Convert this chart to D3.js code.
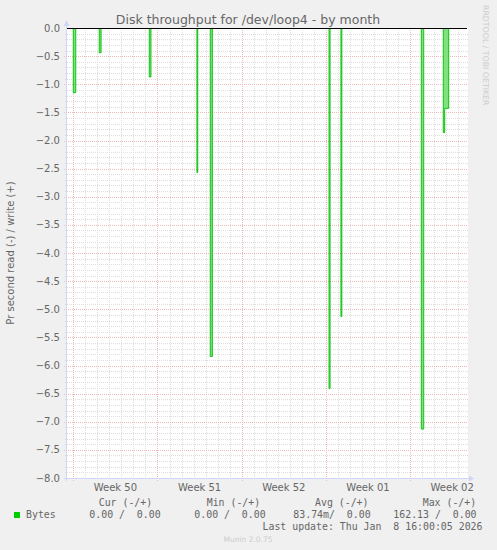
<!DOCTYPE html>
<html>
<head>
<meta charset="utf-8">
<script src="https://cdn.jsdelivr.net/npm/d3@7"></script>
<style>
  body { margin: 0; background: #f0f0f0; }
  text { font-family: 'DejaVu Sans', sans-serif; fill: #666; }
  .mono { font-family: 'DejaVu Sans Mono', monospace; white-space: pre; }
</style>
</head>
<body>
<div id="chart"></div>
<script>
// step samples of the read series (value holds until next time), bytes/s, negative = read
const readTimes = [
  '2025-12-07T11:30', '2025-12-08T00:00', '2025-12-08T05:00',
  '2025-12-10T03:50', '2025-12-10T07:30',
  '2025-12-14T07:40', '2025-12-14T11:00',
  '2025-12-18T06:40', '2025-12-18T08:20',
  '2025-12-19T09:20', '2025-12-19T13:30',
  '2025-12-29T06:15', '2025-12-29T08:20',
  '2025-12-30T06:00', '2025-12-30T07:50',
  '2026-01-05T22:20', '2026-01-06T03:10',
  '2026-01-07T18:10', '2026-01-07T21:00', '2026-01-08T05:00',
  '2026-01-08T16:00'
]
const readValues = [
  0, -1.15, 0,
  -0.44, 0,
  -0.87, 0,
  -2.57, 0,
  -5.84, 0,
  -6.41, 0,
  -5.13, 0,
  -7.13, 0,
  -1.86, -1.43, 0,
  0
]
const weekLabels = ['Week 50', 'Week 51', 'Week 52', 'Week 01', 'Week 02']
const weekStarts = ['2025-12-08', '2025-12-15', '2025-12-22', '2025-12-29', '2026-01-05']
const yTicks = d3.range(0, 17).map(i => -i * 0.5)

const legendHead = ['Cur (-/+)', 'Min (-/+)', 'Avg (-/+)', 'Max (-/+)']
const legendVals = ['0.00 /  0.00', '0.00 /  0.00', '83.74m/  0.00', '162.13 /  0.00']

const parse = (s) => new Date(s + (s.length > 10 ? ':00Z' : 'T00:00:00Z'))
const data = readTimes.map((t, i) => ({ t: parse(t), v: readValues[i] }))

const width = 497
const height = 550
const pLeft = 67, pRight = 468, pTop = 28, pBottom = 478
const gridMinor = '#dedede'
const gridMajor = '#f0b8b8'
const axisColor = '#cfd6f8'

const xScale = d3.scaleUtc()
    .domain([parse('2025-12-07T11:30'), parse('2026-01-09T19:30')])
    .range([pLeft, pRight])
const yScale = d3.scaleLinear().domain([-8, 0]).range([pBottom, pTop])

const svg = d3.select('#chart')
    .append('svg')
    .attr('width', width)
    .attr('height', height)

svg.append('rect').attr('width', width).attr('height', height).attr('fill', '#f0f0f0')
svg.append('rect')
    .attr('x', pLeft).attr('y', pTop)
    .attr('width', pRight - pLeft).attr('height', pBottom - pTop)
    .attr('fill', '#fff')

// grid
const days = d3.utcDay.range(xScale.domain()[0], xScale.domain()[1])
const mondays = d3.utcMonday.range(xScale.domain()[0], xScale.domain()[1])
const minorDays = days.filter(d => d.getUTCDay() !== 1)
const yMinor = d3.range(1, 80).filter(i => i % 5 !== 0).map(i => -i / 10)

const grid = svg.append('g').attr('shape-rendering', 'crispEdges')
grid.selectAll('.vmin').data(minorDays).enter().append('line')
    .attr('x1', d => Math.round(xScale(d)) + 0.5).attr('x2', d => Math.round(xScale(d)) + 0.5)
    .attr('y1', pTop).attr('y2', pBottom + 2)
    .attr('stroke', gridMinor).attr('stroke-dasharray', '1,1')
grid.selectAll('.hmin').data(yMinor).enter().append('line')
    .attr('y1', d => Math.round(yScale(d)) + 0.5).attr('y2', d => Math.round(yScale(d)) + 0.5)
    .attr('x1', pLeft - 2).attr('x2', pRight)
    .attr('stroke', gridMinor).attr('stroke-dasharray', '1,1')
grid.selectAll('.vmaj').data(mondays).enter().append('line')
    .attr('x1', d => Math.round(xScale(d)) + 0.5).attr('x2', d => Math.round(xScale(d)) + 0.5)
    .attr('y1', pTop).attr('y2', pBottom + 3)
    .attr('stroke', gridMajor).attr('stroke-dasharray', '1,1')
grid.selectAll('.hmaj').data(yTicks.slice(1, -1)).enter().append('line')
    .attr('y1', d => Math.round(yScale(d)) + 0.5).attr('y2', d => Math.round(yScale(d)) + 0.5)
    .attr('x1', pLeft - 3).attr('x2', pRight)
    .attr('stroke', gridMajor).attr('stroke-dasharray', '1,1')

// axes lines + arrows
svg.append('line')
    .attr('x1', pLeft - 0.5).attr('x2', pLeft - 0.5).attr('y1', 22).attr('y2', pBottom + 3)
    .attr('stroke', axisColor)
svg.append('line')
    .attr('x1', pLeft - 3).attr('x2', pRight + 3).attr('y1', pBottom + 0.5).attr('y2', pBottom + 0.5)
    .attr('stroke', axisColor)
svg.append('path').attr('d', `M${pLeft - 3.5},26 L${pLeft + 2.5},26 L${pLeft - 0.5},20 Z`).attr('fill', axisColor)
svg.append('path').attr('d', `M${pRight + 1},${pBottom - 2.5} L${pRight + 1},${pBottom + 3.5} L${pRight + 6},${pBottom + 0.5} Z`).attr('fill', axisColor)

// y tick labels
svg.selectAll('.ylab').data(yTicks).enter().append('text')
    .attr('x', 60).attr('y', d => yScale(d) + 3.6)
    .attr('text-anchor', 'end').attr('font-size', 10)
    .text(d => d3.format('.1f')(d))

// x labels at middle of each week
svg.selectAll('.xlab').data(weekLabels).enter().append('text')
    .attr('x', (d, i) => xScale(d3.utcHour.offset(parse(weekStarts[i]), 84)))
    .attr('y', 491)
    .attr('text-anchor', 'middle').attr('font-size', 10)
    .text(d => d)

// data
const clip = svg.append('clipPath').attr('id', 'clip')
clip.append('rect').attr('x', pLeft).attr('y', pTop).attr('width', pRight - pLeft).attr('height', pBottom - pTop)
const area = d3.area().curve(d3.curveStepAfter).x(d => xScale(d.t)).y0(yScale(0)).y1(d => yScale(d.v))
const line = d3.line().curve(d3.curveStepAfter).x(d => xScale(d.t)).y(d => yScale(d.v))
svg.append('path').datum(data).attr('d', area).attr('fill', '#7ee27e').attr('clip-path', 'url(#clip)')
svg.append('path').datum(data).attr('d', line).attr('fill', 'none').attr('stroke', '#00c000').attr('stroke-width', 0.9).attr('clip-path', 'url(#clip)')

// zero rule
svg.append('line')
    .attr('x1', pLeft).attr('x2', pRight - 1).attr('y1', yScale(0) + 0.5).attr('y2', yScale(0) + 0.5)
    .attr('stroke', '#000').attr('stroke-width', 1)

// titles
svg.append('text')
    .attr('x', 248).attr('y', 24).attr('text-anchor', 'middle').attr('font-size', 12.5)
    .text('Disk throughput for /dev/loop4 - by month')
svg.append('text')
    .attr('transform', `translate(14, 253) rotate(-90)`)
    .attr('text-anchor', 'middle').attr('font-size', 10)
    .text('Pr second read (-) / write (+)')
svg.append('text')
    .attr('transform', `translate(482.5, 5) rotate(90)`)
    .attr('font-size', 7.8).style('fill', '#cccccc')
    .text('RRDTOOL / TOBI OETIKER')

// legend
svg.append('rect').attr('x', 14).attr('y', 512).attr('width', 6).attr('height', 6).attr('fill', '#00cc00')
svg.append('text').attr('class', 'mono').attr('x', 26).attr('y', 518).attr('font-size', 9.9).text('Bytes')
const headX = [98.7, 206.7, 315, 422.7]
const valX = [89.3, 194.3, 293.3, 393.3]
svg.selectAll('.lh').data(legendHead).enter().append('text')
    .attr('class', 'mono').attr('x', (d, i) => headX[i]).attr('y', 506).attr('font-size', 9.9)
    .text(d => d)
svg.selectAll('.lv').data(legendVals).enter().append('text')
    .attr('class', 'mono').attr('x', (d, i) => valX[i]).attr('y', 518).attr('font-size', 9.9)
    .text(d => d)
svg.append('text').attr('class', 'mono').attr('x', 482.5).attr('y', 530).attr('text-anchor', 'end').attr('font-size', 9.9)
    .text('Last update: Thu Jan  8 16:00:05 2026')
svg.append('text')
    .attr('x', 248).attr('y', 542).attr('text-anchor', 'middle').attr('font-size', 7.5).style('fill', '#cccccc')
    .text('Munin 2.0.75')
</script>
</body>
</html>
